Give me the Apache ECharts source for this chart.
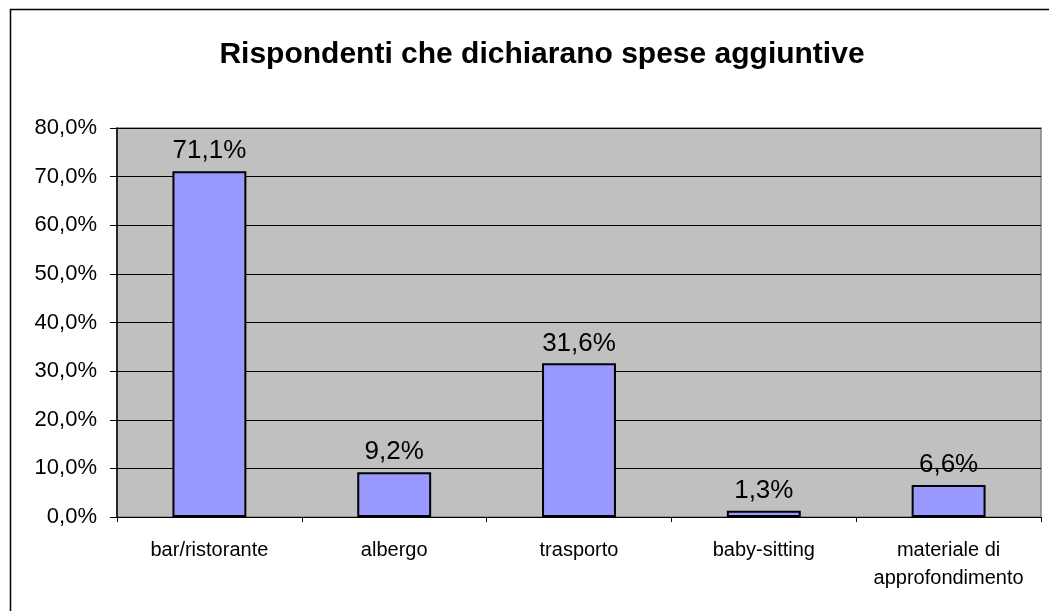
<!DOCTYPE html>
<html>
<head>
    <meta charset="utf-8">
    <title>Rispondenti che dichiarano spese aggiuntive</title>
    <script src="https://cdn.jsdelivr.net/npm/echarts@6/dist/echarts.min.js"></script>
</head>
<body style="margin:0">
<div id="container" style="width: 1049px;height: 611px;"></div>
<script type="text/javascript">
    // categorie
    var categories = ['bar/ristorante', 'albergo', 'trasporto', 'baby-sitting', 'materiale di\napprofondimento'];
    // percentuali
    var values = [71.1, 9.2, 31.6, 1.3, 6.6];

    function pct(v) {
        return v.toFixed(1).replace('.', ',') + '%';
    }

    var myChart = echarts.init(document.getElementById('container'));
    var option = {
        animation: false,
        textStyle: { fontFamily: 'Liberation Sans, Arial, sans-serif' },
        title: {
            text: 'Rispondenti che dichiarano spese aggiuntive',
            left: 537,
            textAlign: 'center',
            top: 35,
            textStyle: { fontSize: 30, fontWeight: 'bold', color: '#000' }
        },
        graphic: [{
            type: 'rect',
            shape: { x: 10.5, y: 9.5, width: 1100, height: 700 },
            style: { fill: 'none', stroke: '#000', lineWidth: 1.5 },
            silent: true
        }],
        grid: {
            left: 117, top: 128, right: 8, bottom: 94,
            show: true,
            backgroundColor: '#C0C0C0',
            borderColor: '#808080',
            borderWidth: 1.5
        },
        xAxis: {
            type: 'category',
            data: categories,
            axisLine: { lineStyle: { color: '#000', width: 1 } },
            axisTick: { show: true, length: 5, alignWithLabel: false, lineStyle: { color: '#000' } },
            axisLabel: { color: '#000', fontSize: 20, margin: 19, lineHeight: 28, interval: 0 }
        },
        yAxis: {
            type: 'value',
            min: 0, max: 80, interval: 10,
            axisLine: { show: true, lineStyle: { color: '#000', width: 1.5 } },
            axisTick: { show: true, length: 7, lineStyle: { color: '#000' } },
            splitLine: { lineStyle: { color: '#000', width: 1 } },
            axisLabel: { color: '#000', fontSize: 22, margin: 20, formatter: pct }
        },
        series: [{
            type: 'bar',
            data: values,
            barWidth: '40%',
            itemStyle: { color: '#9999FF', borderColor: '#000', borderWidth: 2 },
            label: {
                show: true,
                position: 'top',
                distance: 7,
                color: '#000',
                fontSize: 26,
                formatter: function (p) { return pct(p.value); }
            }
        }]
    };
    myChart.setOption(option);
</script>
</body>
</html>
